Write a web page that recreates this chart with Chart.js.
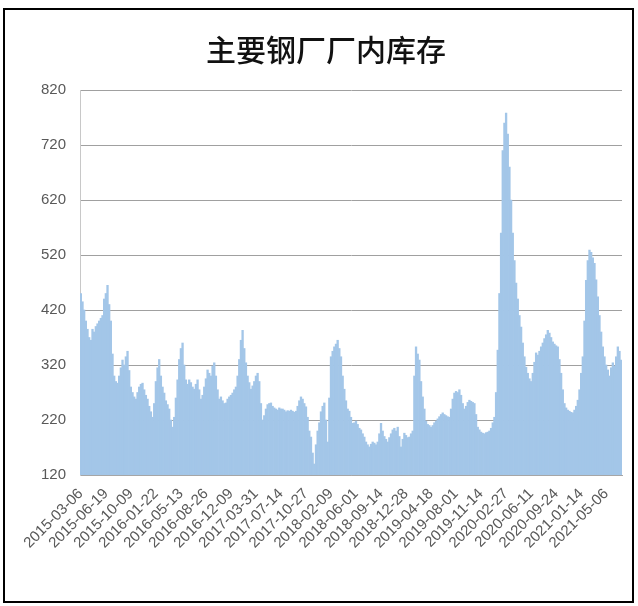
<!DOCTYPE html>
<html>
<head>
<meta charset="utf-8">
<script src="https://cdn.jsdelivr.net/npm/chart.js@4.4.0/dist/chart.umd.min.js"></script>
<style>
    html, body { margin: 0; padding: 0; background: #fff; }
    #wrap { position: relative; width: 638px; height: 606px; }
    #frame { position: absolute; left: 3px; top: 8px; width: 627px; height: 591px; border: 2px solid #000; }
    canvas { position: absolute; left: 0; top: 0; }
</style>
</head>
<body>
<div id="wrap">
    <div id="frame"></div>
    <canvas id="stock-chart" width="638" height="606"></canvas>
</div>
<script>
// 主要钢厂厂内库存 (weekly), one label every 15 weeks
const tickLabels = [
    '2015-03-06', '2015-06-19', '2015-10-09', '2016-01-22', '2016-05-13', '2016-08-26',
    '2016-12-09', '2017-03-31', '2017-07-14', '2017-10-27', '2018-02-09', '2018-06-01',
    '2018-09-14', '2018-12-28', '2019-04-18', '2019-08-01', '2019-11-14', '2020-02-27',
    '2020-06-11', '2020-09-24', '2021-01-14', '2021-05-06'
];
const labelEvery = 15;

const stock = [
    450, 435, 420, 400, 385, 370, 365, 385, 380, 390, 395, 400, 405, 410, 440,
    450, 465, 430, 400, 340, 300, 290, 287, 300, 315, 329, 320, 335, 345, 310,
    280, 270, 262, 258, 270, 280, 285, 287, 275, 265, 258, 245, 235, 225, 250,
    290, 315, 330, 300, 280, 269, 255, 248, 240, 220, 207, 225, 260, 293, 330,
    350, 360, 320, 293, 285, 293, 288, 280, 276, 285, 293, 275, 258, 265, 280,
    295, 311, 305, 300, 318, 324, 300, 275, 258, 262, 255, 250, 251, 258, 262,
    265, 269, 275, 280, 300, 330, 365, 383, 350, 324, 300, 288, 276, 282, 290,
    300, 305, 290, 250, 220, 228, 240, 248, 250, 251, 245, 242, 240, 238, 242,
    240, 240, 238, 235, 237, 236, 238, 236, 234, 236, 245, 255, 262, 258, 250,
    244, 225, 200, 189, 160, 140, 175, 200, 215, 235, 245, 251, 220, 180, 260,
    335, 345, 353, 358, 365, 350, 335, 300, 276, 255, 240, 236, 225, 214, 215,
    218, 212, 205, 202, 195, 189, 180, 175, 171, 176, 180, 178, 175, 180, 195,
    214, 200, 190, 185, 180, 188, 195, 202, 205, 200, 207, 190, 171, 185, 196,
    192, 188, 189, 195, 200, 300, 353, 340, 329, 290, 262, 240, 218, 212, 210,
    207, 210, 215, 218, 222, 226, 230, 233, 230, 228, 226, 225, 240, 258, 269,
    272, 270, 275, 265, 250, 240, 245, 252, 256, 254, 252, 250, 230, 207, 202,
    198, 196, 195, 197, 198, 200, 205, 215, 225, 270, 347, 450, 560, 710, 760,
    778, 740, 680, 620, 560, 510, 469, 440, 410, 389, 360, 335, 316, 305, 295,
    290, 305, 325, 342, 338, 345, 353, 360, 368, 375, 383, 378, 370, 362, 358,
    355, 353, 330, 305, 275, 250, 242, 238, 236, 234, 233, 238, 245, 256, 275,
    305, 335, 400, 474, 510, 529, 525, 515, 505, 475, 444, 410, 380, 353, 335,
    320, 311, 300, 315, 324, 318, 335, 353, 345, 329
];

const categories = stock.map((v, i) => (i % labelEvery === 0 ? (tickLabels[i / labelEvery] || '') : ''));

const axisFont = { family: "'Liberation Sans Narrow', 'Liberation Sans', Arial, sans-serif", size: 15 };

const ctx = document.getElementById('stock-chart').getContext('2d');
new Chart(ctx, {
    type: 'bar',
    data: {
        labels: categories,
        datasets: [{
            label: '主要钢厂厂内库存',
            data: stock,
            backgroundColor: '#a3c6e8',
            borderWidth: 0,
            barPercentage: 1,
            categoryPercentage: 1
        }]
    },
    options: {
        responsive: false,
        animation: false,
        layout: { padding: { left: 30, right: 16, top: 14, bottom: 0 } },
        plugins: {
            legend: { display: false },
            tooltip: { enabled: false },
            title: {
                display: true,
                text: '主要钢厂厂内库存',
                color: '#111',
                font: { family: "'Noto Sans CJK SC', sans-serif", size: 30, weight: '500' },
                padding: { top: 18, bottom: 22 }
            }
        },
        scales: {
            x: {
                grid: { display: false },
                border: { display: true, color: '#a6a6a6' },
                ticks: {
                    autoSkip: false,
                    minRotation: 45,
                    maxRotation: 45,
                    padding: 2,
                    color: '#595959',
                    font: axisFont
                },
                afterFit: function (scale) { scale.height = 131; }
            },
            y: {
                min: 120,
                max: 820,
                z: 1,
                grid: { color: '#a0a0a0', lineWidth: 1, drawTicks: false },
                border: { display: true, color: '#c8c8c8' },
                ticks: { stepSize: 100, padding: 14, color: '#595959', font: axisFont },
                afterFit: function (scale) { scale.width = 50; }
            }
        }
    }
});
</script>
</body>
</html>
